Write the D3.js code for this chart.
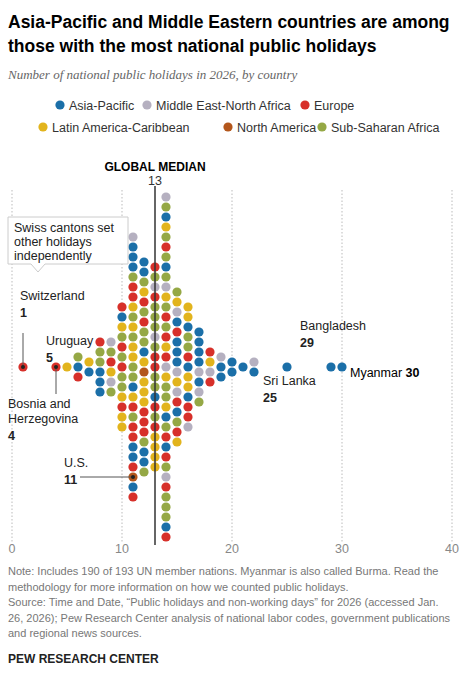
<!DOCTYPE html>
<meta charset="utf-8">
<body style="margin:0;background:#fff">
<script src="https://d3js.org/d3.v7.min.js"></script>
<script>
// holidays per country, grouped by number of holidays; each letter is one country (top to bottom)
// A Asia-Pacific, M Middle East-North Africa, E Europe, L Latin America-Caribbean, N North America, S Sub-Saharan Africa
var holidays = [1, 4, 5, 6, 7, 8, 9, 10, 11, 12, 13, 14, 15, 16, 17, 18, 19, 20, 21, 22, 25, 29, 30];
var regionCodes = ["E", "E", "L", "SAE", "LA", "ESSAAA", "MSELMS", "EALSESESSLELL",
  "MAAASEELSLSLLSSALESEEAAENAE", "AASLESESSALNLLLEEESAAS", "ESMESSSMSEESSAESELLLL",
  "MSALSESASMLSESELEMLSSLASEAESMESSSAE", "SLMAEAAAMLMEASEL", "LLASSEALLAEEM",
  "AAAAMAMS", "ELME", "MAA", "AA", "A", "MA", "A", "A", "A"];
var regionNames = ["Asia-Pacific", "Middle East-North Africa", "Europe", "Latin America-Caribbean", "North America", "Sub-Saharan Africa"];
var regionKeys = ["A", "M", "E", "L", "N", "S"];
var regionColors = ["#1b6fa8", "#b5b0c0", "#d7302a", "#e2b41d", "#b3561b", "#95a845"];
var axisTicks = [0, 10, 20, 30, 40];
var median = 13;

var W = 473, H = 680;
var svg = d3.select("body").append("svg").attr("width", W).attr("height", H)
  .style("font-family", "'Liberation Sans', Arial, sans-serif");

var x = d3.scaleLinear().domain([0, 40]).range([12, 452]);
var color = d3.scaleOrdinal().domain(regionKeys).range(regionColors);
var cy = 367, step = 10, r = 4.6;

// title
svg.append("text").attr("x", 8).attr("y", 28).attr("font-size", 17.5).attr("font-weight", "bold")
  .text("Asia-Pacific and Middle Eastern countries are among");
svg.append("text").attr("x", 8).attr("y", 52).attr("font-size", 17.5).attr("font-weight", "bold")
  .text("those with the most national public holidays");
svg.append("text").attr("x", 8).attr("y", 79).attr("font-size", 13).attr("font-style", "italic")
  .attr("fill", "#666").style("font-family", "'Liberation Serif', Georgia, serif")
  .text("Number of national public holidays in 2026, by country");

// legend
var legendPos = [[60, 105], [147, 105], [305, 105], [43, 127], [228, 127], [322, 127]];
regionNames.forEach(function(n, i) {
  var g = svg.append("g").attr("transform", "translate(" + legendPos[i][0] + "," + legendPos[i][1] + ")");
  g.append("circle").attr("r", 4.6).attr("fill", regionColors[i]);
  g.append("text").attr("x", 9).attr("y", 4.5).attr("font-size", 12.5).attr("fill", "#333").text(n);
});

// grid
svg.selectAll(".grid").data(axisTicks).enter().append("line")
  .attr("x1", function(d) { return x(d); }).attr("x2", function(d) { return x(d); })
  .attr("y1", 190).attr("y2", 542)
  .attr("stroke", "#bbb").attr("stroke-dasharray", "1.5,2");
svg.selectAll(".tick").data(axisTicks).enter().append("text")
  .attr("x", function(d) { return x(d); }).attr("y", 553).attr("text-anchor", "middle")
  .attr("font-size", 12.5).attr("fill", "#888").text(function(d) { return d; });

// dots
var dots = [];
holidays.forEach(function(h, i) {
  var codes = regionCodes[i].split("");
  codes.forEach(function(c, j) {
    dots.push({h: h, region: c, y: cy + (j - (codes.length - 1) / 2) * step});
  });
});
svg.selectAll(".dot").data(dots).enter().append("circle")
  .attr("cx", function(d) { return x(d.h); }).attr("cy", function(d) { return d.y; })
  .attr("r", r).attr("fill", function(d) { return color(d.region); });

// median
svg.append("line").attr("x1", x(median)).attr("x2", x(median)).attr("y1", 186).attr("y2", 545)
  .attr("stroke", "#333").attr("stroke-width", 1.5);
svg.append("text").attr("x", x(median)).attr("y", 171).attr("text-anchor", "middle")
  .attr("font-size", 12).attr("font-weight", "bold").text("GLOBAL MEDIAN");
svg.append("text").attr("x", x(median)).attr("y", 185).attr("text-anchor", "middle")
  .attr("font-size", 12.5).attr("fill", "#333").text(median);

// annotations
function label(tx, ty, lines, num, anchor) {
  var t = svg.append("text").attr("font-size", 12.5).attr("fill", "#222").attr("text-anchor", anchor || "start");
  lines.forEach(function(l, i) { t.append("tspan").attr("x", tx).attr("y", ty + i * 15).text(l); });
  t.append("tspan").attr("x", tx).attr("y", ty + lines.length * 15 + 2).attr("font-weight", "bold").text(num);
}
function leader(x1, y1, x2, y2) {
  svg.append("line").attr("x1", x1).attr("y1", y1).attr("x2", x2).attr("y2", y2).attr("stroke", "#555");
  svg.append("circle").attr("cx", x2).attr("cy", y2).attr("r", 2).attr("fill", "#222");
}
label(20, 300, ["Switzerland"], "1");
leader(x(1), 333, x(1), cy);
label(46, 345, ["Uruguay"], "5");
label(8, 408, ["Bosnia and", "Herzegovina"], "4");
leader(x(4), 394, x(4), cy);
var usDot = dots.filter(function(d) { return d.h === 11 && d.region === "N"; })[0];
label(64, usDot.y - 10, ["U.S."], "11");
leader(80, usDot.y, x(11), usDot.y);
label(300, 330, ["Bangladesh"], "29");
label(263, 385, ["Sri Lanka"], "25");
svg.append("text").attr("x", 350).attr("y", 377).attr("font-size", 12.5).text("Myanmar ")
  .append("tspan").attr("font-weight", "bold").text("30");

// callout
svg.append("path").attr("d", "M8,217 H128 V264 H45 L38,272 L31,264 H8 Z")
  .attr("fill", "#fff").attr("stroke", "#ccc");
var ct = svg.append("text").attr("font-size", 12.5).attr("fill", "#222");
["Swiss cantons set", "other holidays", "independently"].forEach(function(l, i) {
  ct.append("tspan").attr("x", 14).attr("y", 232 + i * 14).text(l);
});

// notes
var notes = ["Note: Includes 190 of 193 UN member nations. Myanmar is also called Burma. Read the",
  "methodology for more information on how we counted public holidays.",
  "Source: Time and Date, \u201cPublic holidays and non-working days\u201d for 2026 (accessed Jan.",
  "26, 2026); Pew Research Center analysis of national labor codes, government publications",
  "and regional news sources."];
notes.forEach(function(n, i) {
  svg.append("text").attr("x", 8).attr("y", 575 + i * 15.5).attr("font-size", 11).attr("fill", "#777").text(n);
});
svg.append("text").attr("x", 8).attr("y", 663).attr("font-size", 12).attr("font-weight", "bold")
  .attr("fill", "#222").text("PEW RESEARCH CENTER");
</script>
</body>
